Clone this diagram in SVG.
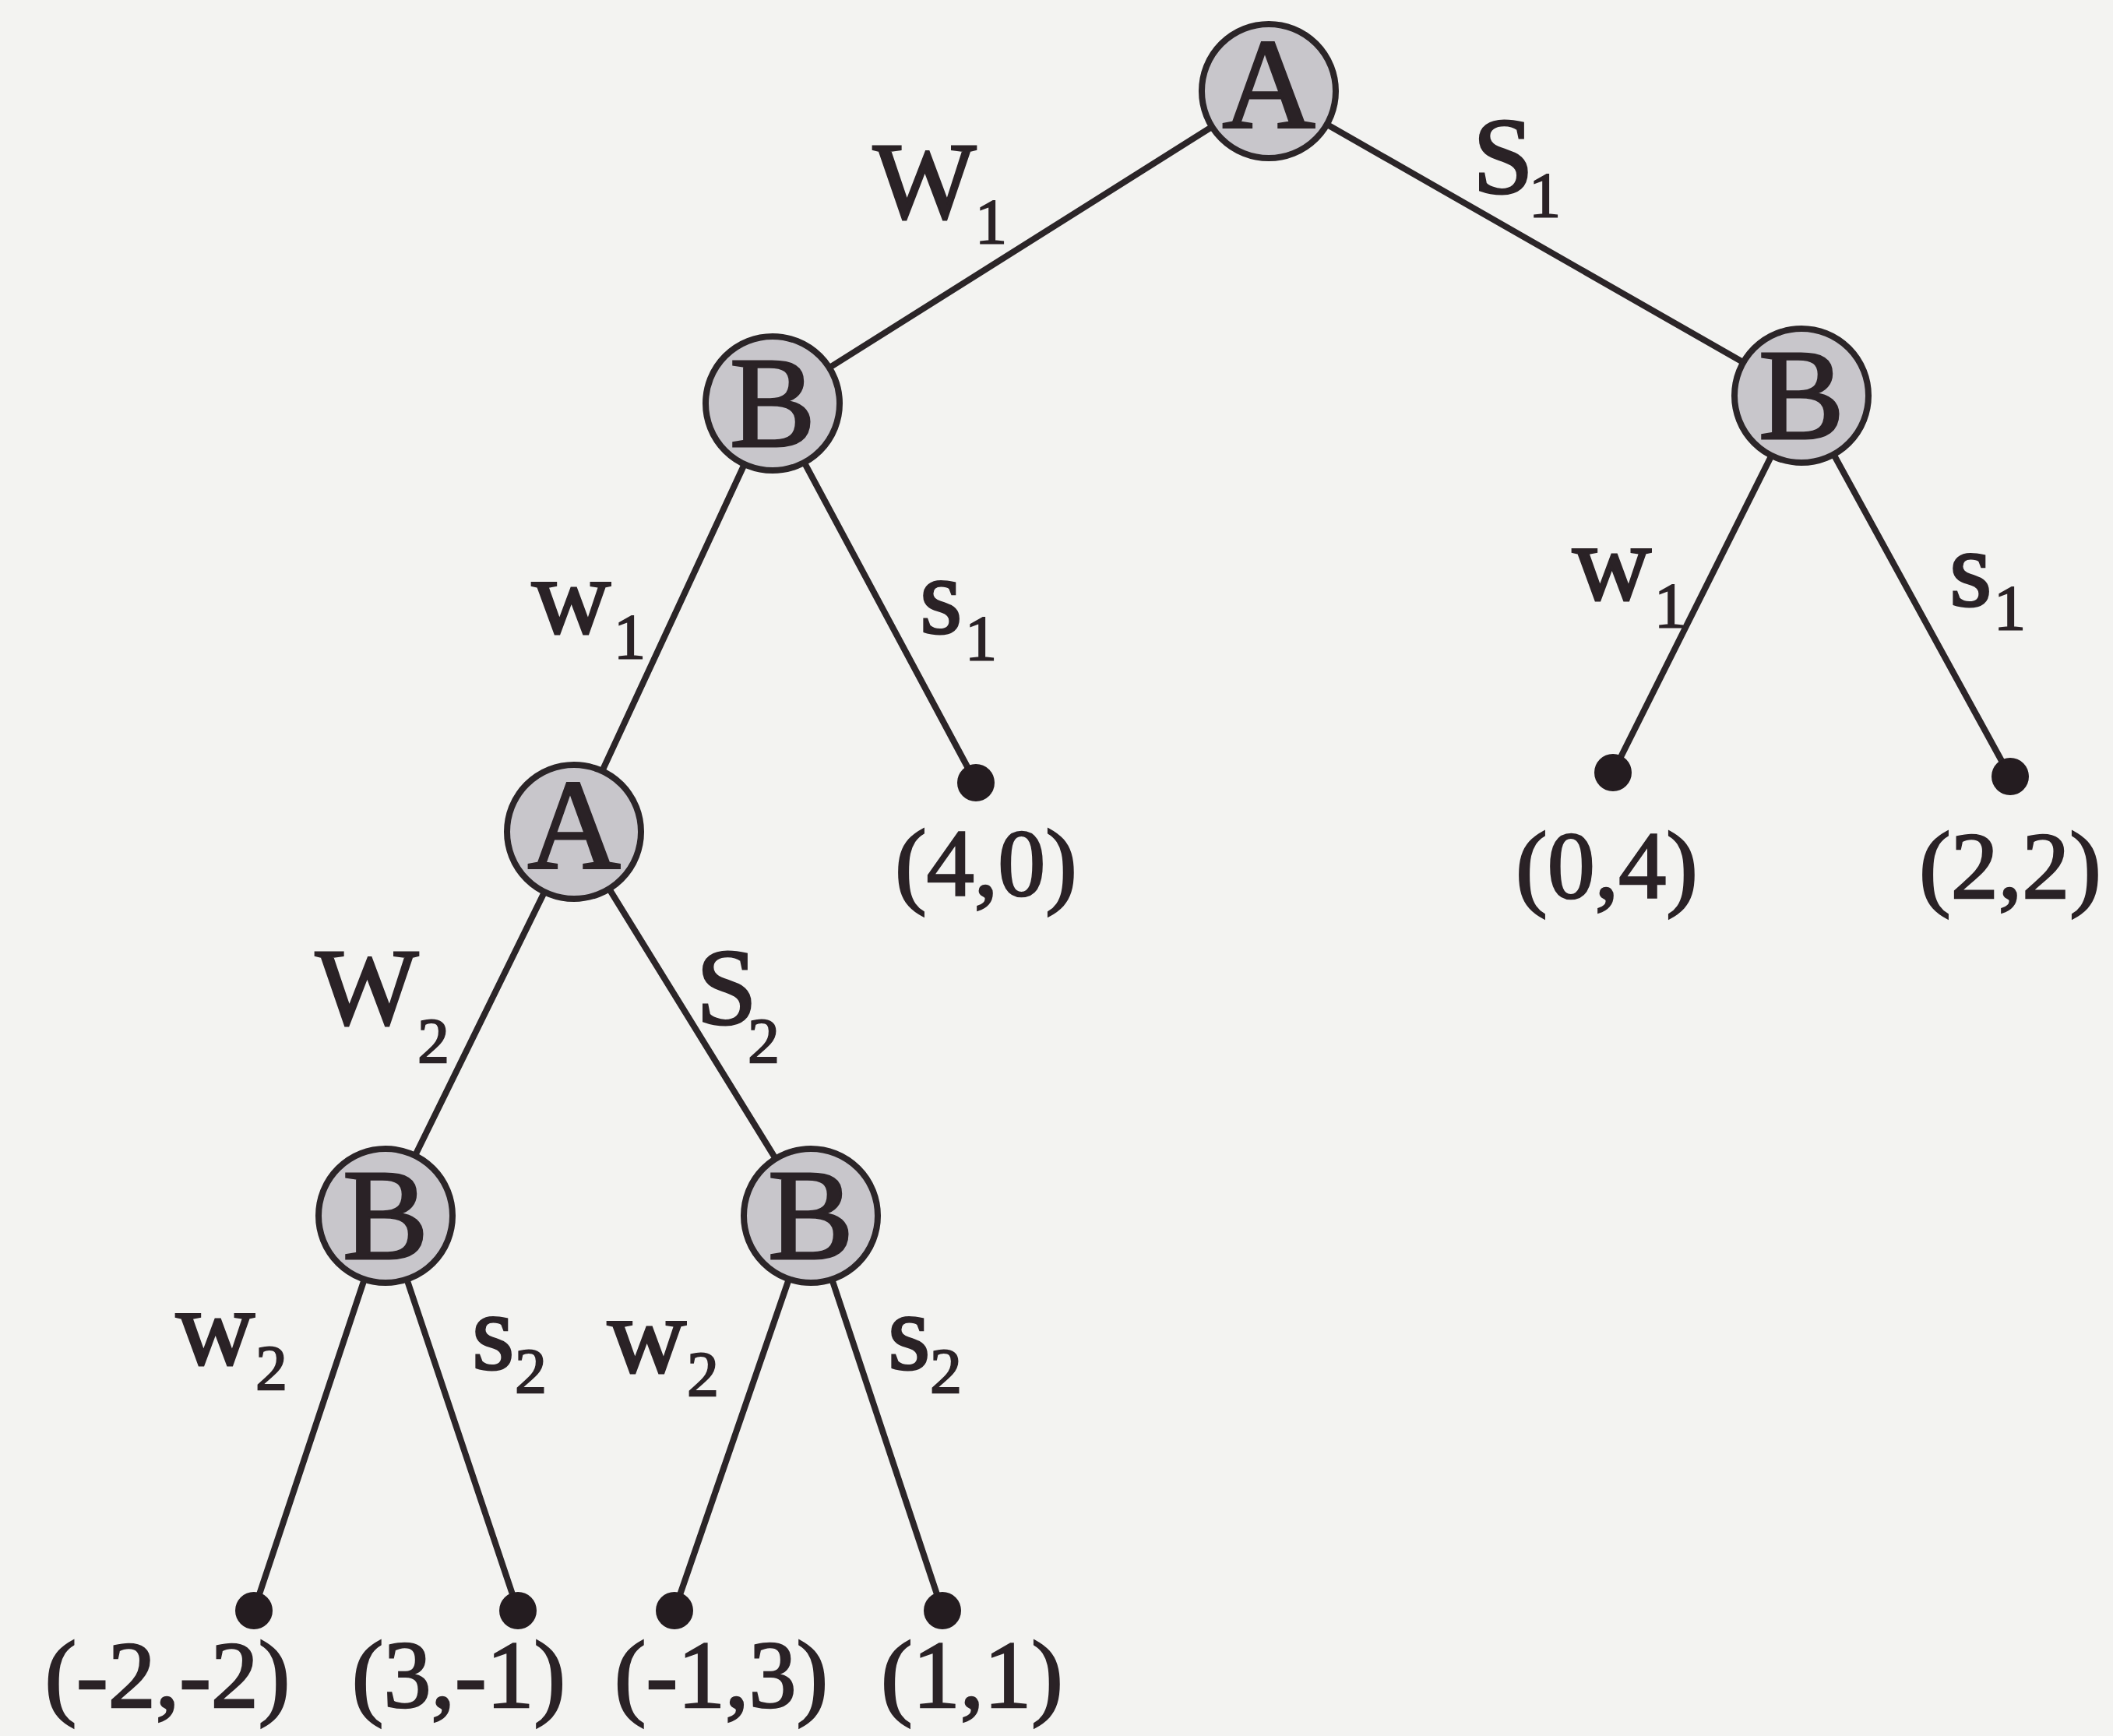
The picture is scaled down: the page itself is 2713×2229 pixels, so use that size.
<svg xmlns="http://www.w3.org/2000/svg" width="2713" height="2229" viewBox="0 0 2713 2229">
<style>
.edge{stroke:#2b2528;stroke-width:8;fill:none;stroke-linecap:round}
.node{fill:#c8c6cb;stroke:#2b2528;stroke-width:8}
text{font-family:"Liberation Serif",serif;fill:#2a2226;stroke:#2a2226}
.nl{font-size:165px;text-anchor:middle;stroke-width:3}
.lab{font-size:140px;stroke-width:3}
.sub{font-size:82px;stroke-width:2}
.pay{font-size:122px;text-anchor:middle;stroke-width:2.5}
.leaf{fill:#241c20}
</style>
<rect width="2713" height="2229" fill="#f3f3f1"/>
<g id="connectors">
<line class="edge" x1="1629" y1="117" x2="992" y2="518"/>
<line class="edge" x1="1629" y1="117" x2="2313" y2="508"/>
<line class="edge" x1="992" y1="518" x2="737" y2="1068"/>
<line class="edge" x1="992" y1="518" x2="1253" y2="1005"/>
<line class="edge" x1="2313" y1="508" x2="2071" y2="992"/>
<line class="edge" x1="2313" y1="508" x2="2581" y2="997"/>
<line class="edge" x1="737" y1="1068" x2="495" y2="1561"/>
<line class="edge" x1="737" y1="1068" x2="1041" y2="1561"/>
<line class="edge" x1="495" y1="1561" x2="326" y2="2068"/>
<line class="edge" x1="495" y1="1561" x2="665" y2="2068"/>
<line class="edge" x1="1041" y1="1561" x2="866" y2="2068"/>
<line class="edge" x1="1041" y1="1561" x2="1210" y2="2068"/>
</g>
<g id="edge-labels">
<text class="lab" x="1121" y="280">W</text><text class="sub" x="1252" y="312">1</text>
<text class="lab" x="1891" y="248">S</text><text class="sub" x="1963" y="278">1</text>
<text class="lab" x="683" y="813">w</text><text class="sub" x="788" y="845">1</text>
<text class="lab" x="1181" y="813">s</text><text class="sub" x="1239" y="847">1</text>
<text class="lab" x="2019" y="770">w</text><text class="sub" x="2124" y="805">1</text>
<text class="lab" x="2503" y="778">s</text><text class="sub" x="2560" y="808">1</text>
<text class="lab" x="405" y="1315">W</text><text class="sub" x="536" y="1364">2</text>
<text class="lab" x="894" y="1315">S</text><text class="sub" x="960" y="1364">2</text>
<text class="lab" x="226" y="1752">w</text><text class="sub" x="328" y="1784">2</text>
<text class="lab" x="606" y="1758">s</text><text class="sub" x="661" y="1788">2</text>
<text class="lab" x="780" y="1762">w</text><text class="sub" x="882" y="1792">2</text>
<text class="lab" x="1140" y="1758">s</text><text class="sub" x="1194" y="1788">2</text>
</g>
<g id="n-root"><circle class="node" cx="1629" cy="117" r="86"/><text class="nl" x="1629" y="164">A</text></g>
<g id="n-b-left"><circle class="node" cx="992" cy="518" r="86"/><text class="nl" x="992" y="573">B</text></g>
<g id="n-b-right"><circle class="node" cx="2313" cy="508" r="86"/><text class="nl" x="2313" y="563">B</text></g>
<g id="n-a-mid"><circle class="node" cx="737" cy="1068" r="86"/><text class="nl" x="737" y="1115">A</text></g>
<g id="n-b-bl"><circle class="node" cx="495" cy="1561" r="86"/><text class="nl" x="495" y="1616">B</text></g>
<g id="n-b-br"><circle class="node" cx="1041" cy="1561" r="86"/><text class="nl" x="1041" y="1616">B</text></g>
<g id="leaf-40"><circle class="leaf" cx="1253" cy="1005" r="24"/><text class="pay" x="1266" y="1150">(4,0)</text></g>
<g id="leaf-04"><circle class="leaf" cx="2071" cy="992" r="24"/><text class="pay" x="2063" y="1153">(0,4)</text></g>
<g id="leaf-22"><circle class="leaf" cx="2581" cy="997" r="24"/><text class="pay" x="2581" y="1153">(2,2)</text></g>
<g id="leaf-m2m2"><circle class="leaf" cx="326" cy="2068" r="24"/><text class="pay" x="215" y="2192">(-2,-2)</text></g>
<g id="leaf-3m1"><circle class="leaf" cx="665" cy="2068" r="24"/><text class="pay" x="589" y="2192">(3,-1)</text></g>
<g id="leaf-m13"><circle class="leaf" cx="866" cy="2068" r="24"/><text class="pay" x="926" y="2192">(-1,3)</text></g>
<g id="leaf-11"><circle class="leaf" cx="1210" cy="2068" r="24"/><text class="pay" x="1248" y="2192">(1,1)</text></g>
</svg>
